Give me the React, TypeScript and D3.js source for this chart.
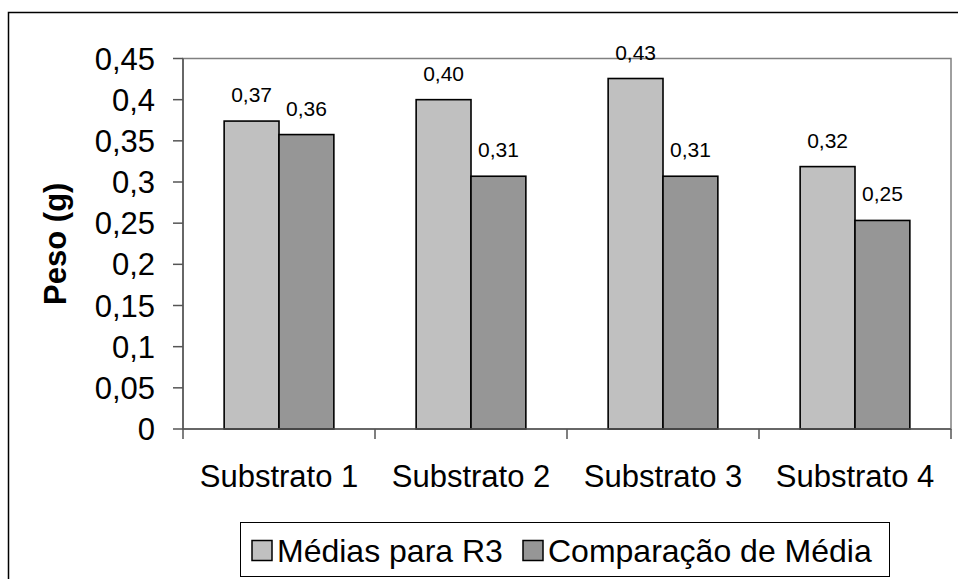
import React from "react";
import * as d3 from "d3";

const categories = ["Substrato 1", "Substrato 2", "Substrato 3", "Substrato 4"];
const seriesNames = ["Médias para R3", "Comparação de Média"];
const mediasR3 = [0.374, 0.4, 0.4257, 0.3187];
const comparacao = [0.3576, 0.307, 0.307, 0.2533];
const yTicks = [0, 0.05, 0.1, 0.15, 0.2, 0.25, 0.3, 0.35, 0.4, 0.45];

const W = 958;
const H = 579;
const plot = { left: 183, right: 951, top: 58.5, bottom: 429 };
const colors = ["#C0C0C0", "#969696"];
const FONT = "Arial, 'Liberation Sans', Helvetica, sans-serif";

const fmtTick = (v: number) => String(+v.toFixed(2)).replace(".", ",");
const fmtLabel = (v: number) => v.toFixed(2).replace(".", ",");

export default function App() {
  const x = d3.scaleBand<string>().domain(categories).range([plot.left, plot.right]).padding(0);
  const y = d3.scaleLinear().domain([0, 0.45]).range([plot.bottom, plot.top]);
  const series = [mediasR3, comparacao];
  const barW = x.bandwidth() / 3.5;

  return (
    <svg
      width={W}
      height={H}
      style={{ position: "absolute", left: 0, top: 0, background: "#fff" }}
      fontFamily={FONT}
    >
      {/* chart frame */}
      <rect x={8.5} y={12.5} width={W + 10} height={H + 10} fill="none" stroke="#000" strokeWidth={1.5} />

      {/* plot area */}
      <rect
        x={plot.left}
        y={plot.top}
        width={plot.right - plot.left}
        height={plot.bottom - plot.top}
        fill="#fff"
        stroke="#808080"
        strokeWidth={1.5}
      />

      {/* bars */}
      {categories.map((c, i) => {
        const cx = (x(c) as number) + x.bandwidth() / 2;
        return series.map((s, j) => {
          const bx = cx - barW + j * barW;
          const by = y(s[i]);
          return (
            <g key={`${c}-${j}`}>
              <rect
                x={bx}
                y={by}
                width={barW}
                height={plot.bottom - by}
                fill={colors[j]}
                stroke="#000"
                strokeWidth={1.6}
              />
              <text
                x={bx + barW / 2}
                y={by - 19}
                textAnchor="middle"
                fontSize={21}
                fill="#000"
              >
                {fmtLabel(s[i])}
              </text>
            </g>
          );
        });
      })}

      {/* y axis */}
      <line x1={plot.left} x2={plot.left} y1={plot.top} y2={plot.bottom} stroke="#555" strokeWidth={1.5} />
      {yTicks.map((t) => (
        <g key={t}>
          <line x1={plot.left - 10} x2={plot.left} y1={y(t)} y2={y(t)} stroke="#555" strokeWidth={1.5} />
          <text x={155} y={y(t)} dy="0.36em" textAnchor="end" fontSize={31} fill="#000">
            {fmtTick(t)}
          </text>
        </g>
      ))}

      {/* x axis */}
      <line x1={plot.left} x2={plot.right} y1={plot.bottom} y2={plot.bottom} stroke="#555" strokeWidth={1.5} />
      {[...categories.map((c) => x(c) as number), plot.right].map((px, i) => (
        <line key={i} x1={px} x2={px} y1={plot.bottom} y2={plot.bottom + 10} stroke="#555" strokeWidth={1.5} />
      ))}
      {categories.map((c) => (
        <text
          key={c}
          x={(x(c) as number) + x.bandwidth() / 2}
          y={487}
          textAnchor="middle"
          fontSize={31}
          fill="#000"
        >
          {c}
        </text>
      ))}

      {/* y axis title */}
      <text
        transform={`translate(66, ${(plot.top + plot.bottom) / 2}) rotate(-90)`}
        textAnchor="middle"
        fontSize={31}
        fontWeight="bold"
        fill="#000"
      >
        Peso (g)
      </text>

      {/* legend */}
      <rect x={240.5} y={522.5} width={649} height={54} fill="#fff" stroke="#000" strokeWidth={1} />
      {[
        { sx: 252, tx: 277 },
        { sx: 523, tx: 548 },
      ].map((p, j) => (
        <g key={j}>
          <rect x={p.sx} y={540.5} width={20} height={20} fill={colors[j]} stroke="#000" strokeWidth={1.5} />
          <text x={p.tx} y={562} fontSize={32} fill="#000">
            {seriesNames[j]}
          </text>
        </g>
      ))}
    </svg>
  );
}
